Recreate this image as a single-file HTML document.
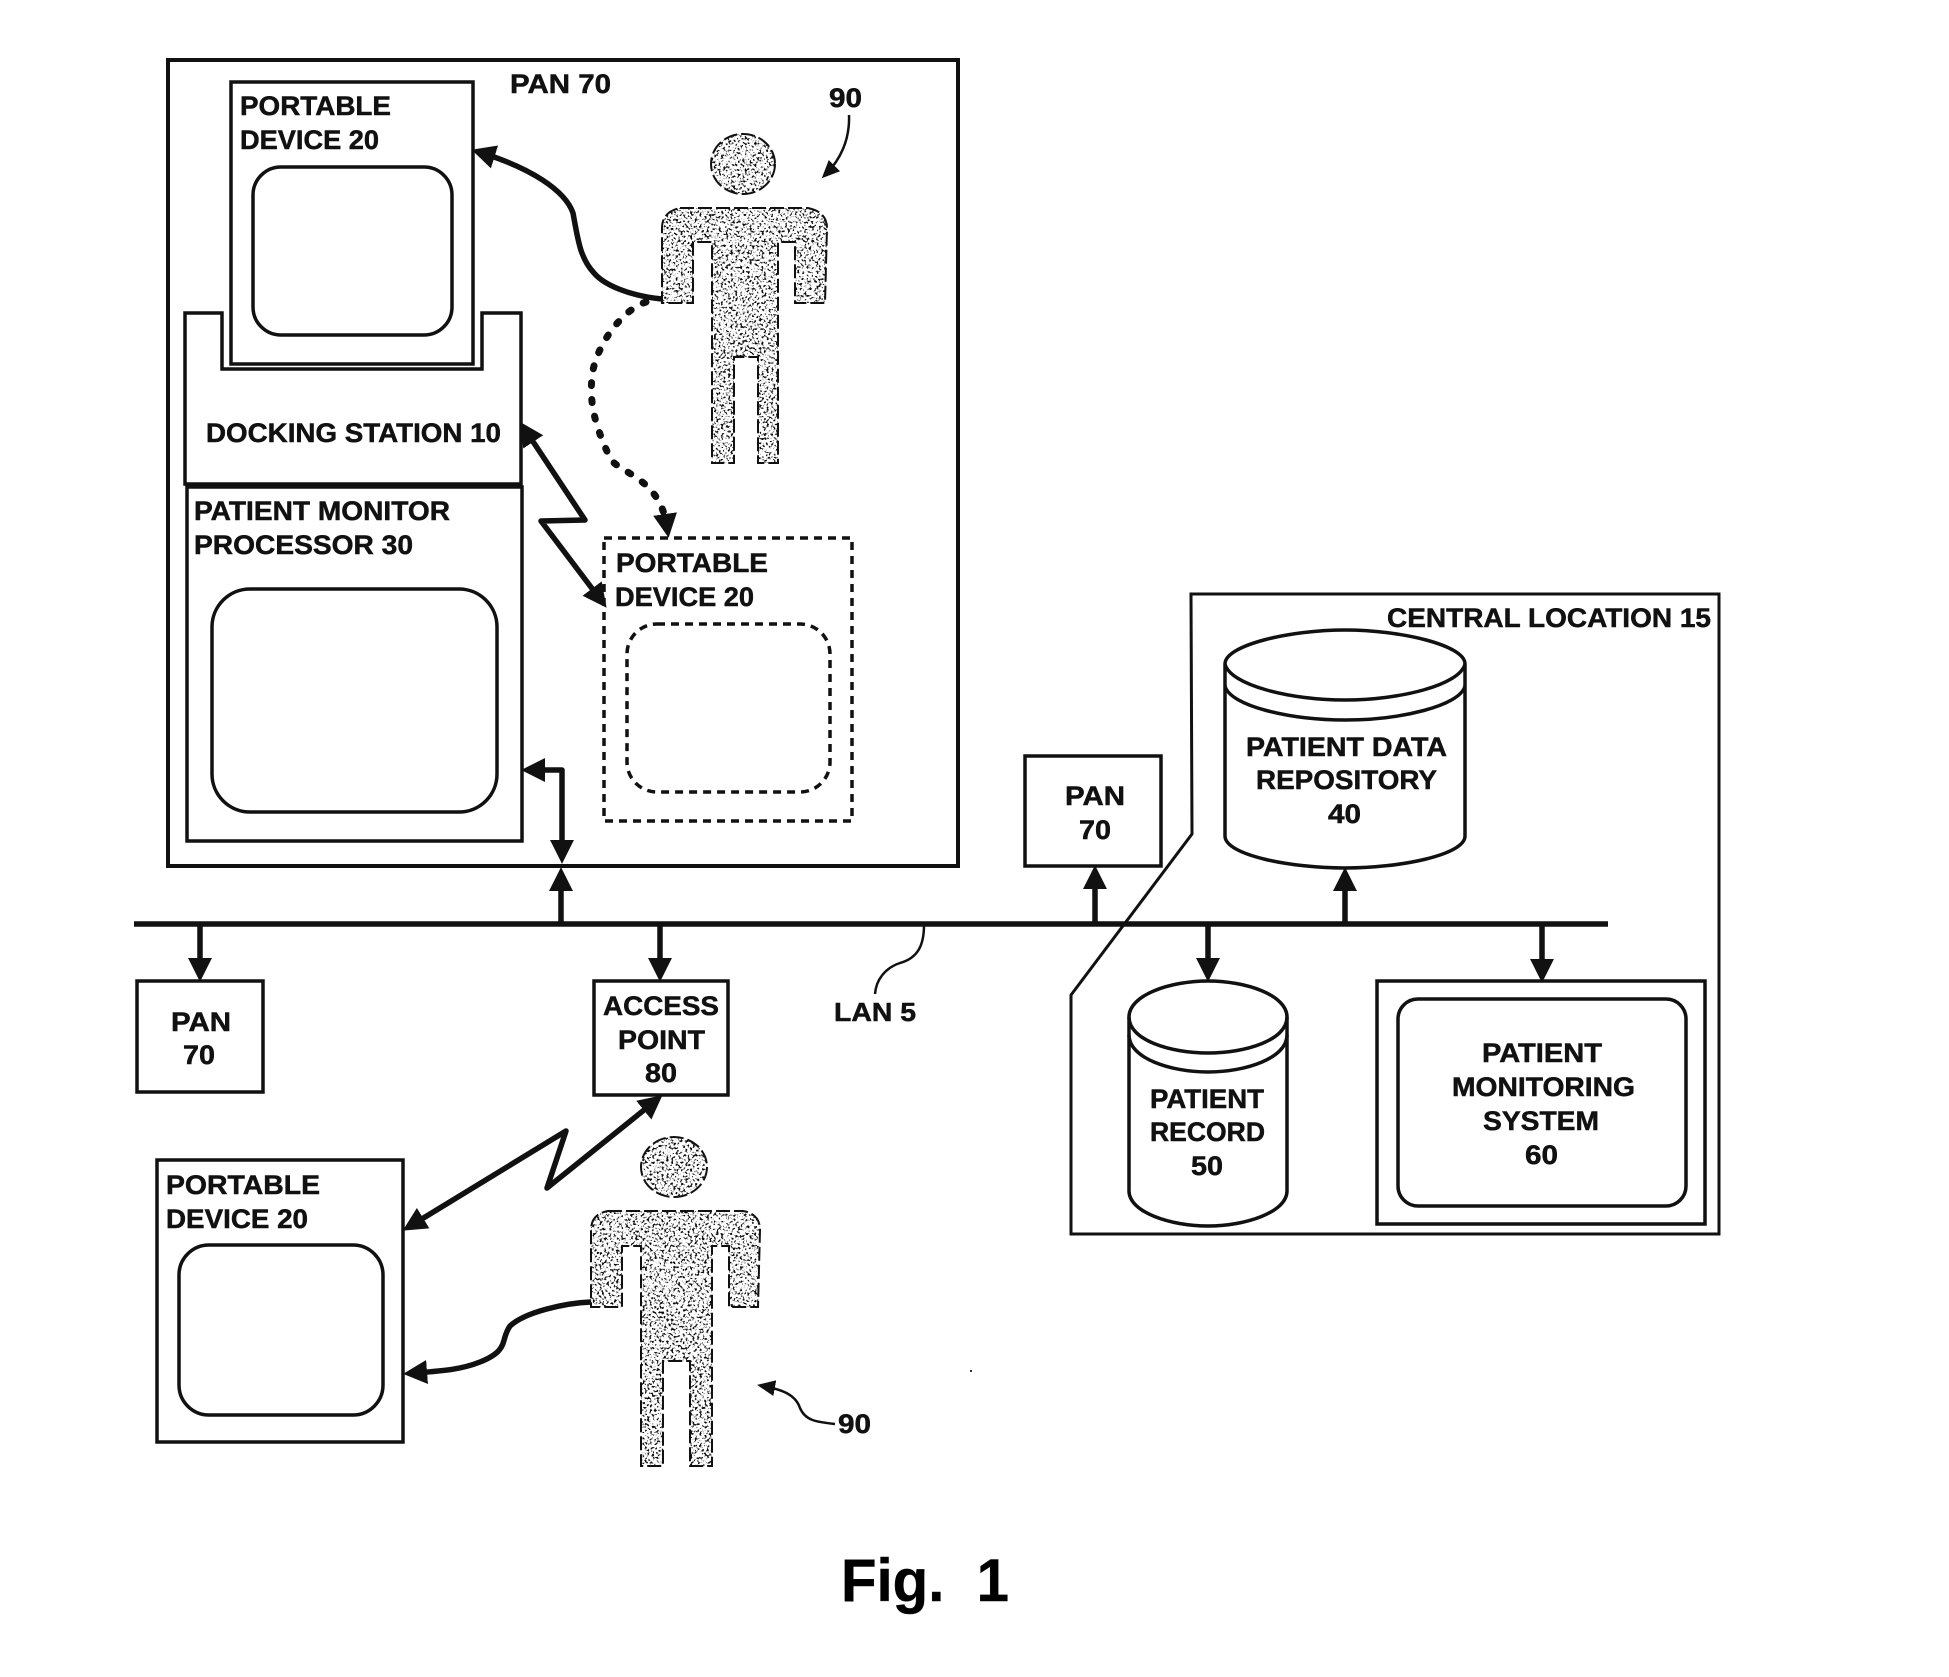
<!DOCTYPE html>
<html><head><meta charset="utf-8"><title>Fig. 1</title>
<style>
html,body{margin:0;padding:0;background:#fff}
svg{display:block}
text{font-family:"Liberation Sans",Arial,sans-serif;font-weight:bold;font-size:27px;fill:#111;stroke:#111;stroke-width:.5}
.b{fill:#fff;stroke:#111;stroke-width:3.5}
.n{fill:none;stroke:#111;stroke-width:3.5}
.a{fill:none;stroke:#111;stroke-width:5.5;stroke-linejoin:round}
.t{fill:none;stroke:#111;stroke-width:2.5}
.o{fill:none;stroke:#111;stroke-width:2;stroke-dasharray:14 4}
</style></head>
<body>
<svg xmlns="http://www.w3.org/2000/svg" width="1949" height="1677" viewBox="0 0 1949 1677">
<defs>
<marker id="h" markerUnits="userSpaceOnUse" markerWidth="24" markerHeight="24" viewBox="0 0 22 22" refX="12" refY="11" orient="auto-start-reverse"><path d="M0,0 L22,11 L0,22 Z" fill="#111"/></marker>
<marker id="s" markerUnits="userSpaceOnUse" markerWidth="18" markerHeight="16" viewBox="0 0 18 16" refX="12" refY="8" orient="auto-start-reverse"><path d="M0,0 L18,8 L0,16 Z" fill="#111"/></marker>
<filter id="st" x="0" y="0" width="1" height="1" color-interpolation-filters="sRGB">
<feTurbulence type="fractalNoise" baseFrequency="0.42" numOctaves="2" seed="7"/>
<feColorMatrix type="matrix" values="0 0 0 0 0.05  0 0 0 0 0.05  0 0 0 0 0.05  9 0 0 0 -4.9"/>
<feComposite in2="SourceAlpha" operator="in"/>
</filter>
</defs>
<rect width="1949" height="1677" fill="#fff"/>

<!-- PAN 70 outer -->
<rect class="b" x="168" y="60" width="790" height="806" style="stroke-width:4"/>
<text x="510" y="93" textLength="101" lengthAdjust="spacingAndGlyphs">PAN 70</text>
<text x="829" y="107" textLength="33" lengthAdjust="spacingAndGlyphs">90</text>
<path class="t" marker-end="url(#s)" d="M849,115 C850,140 840,160 826,174"/>

<!-- docking + portable -->
<path class="b" d="M185,484 L185,313 L222,313 L222,369 L482,369 L482,313 L521,313 L521,484 Z"/>
<rect class="b" x="231" y="82" width="242" height="282"/>
<rect class="n" x="253" y="167" width="199" height="168" rx="28"/>
<text x="240" y="115" textLength="151" lengthAdjust="spacingAndGlyphs">PORTABLE</text>
<text x="240" y="149" textLength="139" lengthAdjust="spacingAndGlyphs">DEVICE 20</text>
<text x="206" y="442" textLength="295" lengthAdjust="spacingAndGlyphs">DOCKING STATION 10</text>

<!-- patient monitor -->
<rect class="b" x="187" y="487" width="335" height="354"/>
<text x="194" y="520" textLength="256" lengthAdjust="spacingAndGlyphs">PATIENT MONITOR</text>
<text x="194" y="554" textLength="219" lengthAdjust="spacingAndGlyphs">PROCESSOR 30</text>
<rect class="n" x="212" y="589" width="285" height="223" rx="38"/>

<!-- person 1 -->
<g filter="url(#st)">
<ellipse cx="743" cy="164" rx="32" ry="30" fill="#000"/>
<path fill="#000" d="M680,208 L808,208 Q827,212 827,228 L825,303 L795,303 L795,242 L778,242 L778,463 L758,463 L758,357 L734,357 L734,463 L712,463 L712,242 L693,242 L693,303 L662,303 L662,228 Q662,212 680,208 Z"/>
</g>
<ellipse class="o" cx="743" cy="164" rx="32" ry="30"/>
<path class="o" d="M680,208 L808,208 Q827,212 827,228 L825,303 L795,303 L795,242 L778,242 L778,463 L758,463 L758,357 L734,357 L734,463 L712,463 L712,242 L693,242 L693,303 L662,303 L662,228 Q662,212 680,208 Z"/>

<path class="a" marker-end="url(#h)" d="M662,299 C630,296 604,285 594,273 C580,258 578,240 573,213 C565,190 530,168 482,153"/>
<path d="M646,302 C622,310 596,345 592,376 C590,400 592,420 611,460 C625,475 660,480 667,527" fill="none" stroke="#111" stroke-width="7" stroke-dasharray="3 14" stroke-linecap="round" marker-end="url(#h)"/>
<path class="a" marker-start="url(#h)" marker-end="url(#h)" d="M526,431 L585,520 L541,521 L600,599"/>

<!-- dashed portable -->
<rect x="604" y="538" width="248" height="283" fill="none" stroke="#111" stroke-width="3.5" stroke-dasharray="8 6"/>
<rect x="627" y="624" width="203" height="168" rx="30" fill="none" stroke="#111" stroke-width="3.5" stroke-dasharray="8 6"/>
<text x="616" y="572" textLength="152" lengthAdjust="spacingAndGlyphs">PORTABLE</text>
<text x="615" y="606" textLength="139" lengthAdjust="spacingAndGlyphs">DEVICE 20</text>

<!-- monitor connection -->
<path class="a" marker-start="url(#h)" marker-end="url(#h)" d="M532,770 L562,770 L562,853"/>

<!-- Central location -->
<path class="n" style="stroke-width:3" d="M1191,594 L1719,594 L1719,1234 L1071,1234 L1071,995 L1192,834 Z"/>
<text x="1387" y="627" textLength="324" lengthAdjust="spacingAndGlyphs">CENTRAL LOCATION 15</text>

<!-- Cylinder 40 -->
<path class="n" d="M1225,664 C1225,645 1290,630 1345,630 C1400,630 1465,645 1465,664 L1465,836 C1465,855 1400,868 1345,868 C1290,868 1225,855 1225,836 Z" fill="#fff"/>
<path class="n" d="M1225,664 C1230,685 1290,700 1345,700 C1400,700 1460,685 1465,664"/>
<path class="n" d="M1225,686 C1230,706 1290,720 1345,720 C1400,720 1460,706 1465,686"/>
<text x="1246" y="756" textLength="201" lengthAdjust="spacingAndGlyphs">PATIENT DATA</text>
<text x="1256" y="789" textLength="181" lengthAdjust="spacingAndGlyphs">REPOSITORY</text>
<text x="1328" y="823" textLength="33" lengthAdjust="spacingAndGlyphs">40</text>

<!-- PAN right -->
<rect class="b" x="1025" y="756" width="136" height="110"/>
<text x="1065" y="805" textLength="60" lengthAdjust="spacingAndGlyphs">PAN</text>
<text x="1079" y="839" textLength="32" lengthAdjust="spacingAndGlyphs">70</text>

<!-- Cylinder 50 -->
<path class="n" d="M1129,1017 C1129,995 1170,981 1208,981 C1246,981 1287,995 1287,1017 L1287,1191 C1287,1212 1246,1226 1208,1226 C1170,1226 1129,1212 1129,1191 Z" fill="#fff"/>
<path class="n" d="M1129,1017 C1129,1040 1170,1053 1208,1053 C1246,1053 1287,1040 1287,1017"/>
<path class="n" d="M1129,1035 C1129,1058 1170,1072 1208,1072 C1246,1072 1287,1058 1287,1035"/>
<text x="1150" y="1108" textLength="114" lengthAdjust="spacingAndGlyphs">PATIENT</text>
<text x="1150" y="1141" textLength="115" lengthAdjust="spacingAndGlyphs">RECORD</text>
<text x="1191" y="1175" textLength="32" lengthAdjust="spacingAndGlyphs">50</text>

<!-- Monitoring system -->
<rect class="b" x="1377" y="981" width="328" height="243"/>
<rect class="n" x="1398" y="999" width="288" height="207" rx="20"/>
<text x="1482" y="1062" textLength="120" lengthAdjust="spacingAndGlyphs">PATIENT</text>
<text x="1452" y="1096" textLength="183" lengthAdjust="spacingAndGlyphs">MONITORING</text>
<text x="1483" y="1130" textLength="116" lengthAdjust="spacingAndGlyphs">SYSTEM</text>
<text x="1525" y="1164" textLength="33" lengthAdjust="spacingAndGlyphs">60</text>

<!-- LAN -->
<path class="a" style="stroke-width:5.5" d="M134,924 L1608,924"/>
<path class="a" marker-end="url(#h)" d="M561,924 L561,878"/>
<path class="a" marker-end="url(#h)" d="M200,924 L200,971"/>
<path class="a" marker-end="url(#h)" d="M660,924 L660,971"/>
<path class="a" marker-end="url(#h)" d="M1095,924 L1095,876"/>
<path class="a" marker-end="url(#h)" d="M1345,924 L1345,878"/>
<path class="a" marker-end="url(#h)" d="M1208,924 L1208,971"/>
<path class="a" marker-end="url(#h)" d="M1542,924 L1542,972"/>
<path class="t" d="M924,925 C924,945 918,958 900,963 C885,968 876,980 875,994"/>
<text x="834" y="1021" textLength="82" lengthAdjust="spacingAndGlyphs" style="font-size:26px">LAN 5</text>

<!-- PAN left -->
<rect class="b" x="137" y="981" width="126" height="111"/>
<text x="171" y="1031" textLength="60" lengthAdjust="spacingAndGlyphs">PAN</text>
<text x="183" y="1064" textLength="32" lengthAdjust="spacingAndGlyphs">70</text>

<!-- Access point -->
<rect class="b" x="594" y="981" width="134" height="114"/>
<text x="603" y="1015" textLength="116" lengthAdjust="spacingAndGlyphs">ACCESS</text>
<text x="618" y="1049" textLength="87" lengthAdjust="spacingAndGlyphs">POINT</text>
<text x="645" y="1082" textLength="32" lengthAdjust="spacingAndGlyphs">80</text>

<!-- Portable bottom -->
<rect class="b" x="157" y="1160" width="246" height="282"/>
<rect class="n" x="179" y="1245" width="204" height="170" rx="30"/>
<text x="166" y="1194" textLength="154" lengthAdjust="spacingAndGlyphs">PORTABLE</text>
<text x="166" y="1228" textLength="142" lengthAdjust="spacingAndGlyphs">DEVICE 20</text>

<!-- Lightning bottom -->
<path class="a" marker-start="url(#h)" marker-end="url(#h)" d="M654,1102 L547,1188 L566,1131 L412,1225"/>

<!-- person 2 -->
<g filter="url(#st)">
<ellipse cx="674" cy="1167" rx="33" ry="30" fill="#000"/>
<path fill="#000" d="M608,1211 L743,1211 Q760,1214 760,1230 L758,1307 L729,1307 L729,1246 L712,1246 L712,1466 L690,1466 L690,1361 L663,1361 L663,1466 L641,1466 L641,1246 L622,1246 L622,1307 L591,1307 L591,1230 Q591,1214 608,1211 Z"/>
</g>
<ellipse class="o" cx="674" cy="1167" rx="33" ry="30"/>
<path class="o" d="M608,1211 L743,1211 Q760,1214 760,1230 L758,1307 L729,1307 L729,1246 L712,1246 L712,1466 L690,1466 L690,1361 L663,1361 L663,1466 L641,1466 L641,1246 L622,1246 L622,1307 L591,1307 L591,1230 Q591,1214 608,1211 Z"/>
<path class="a" marker-end="url(#h)" d="M591,1302 C565,1303 525,1312 510,1326 C500,1340 510,1350 480,1362 C460,1370 440,1371 414,1373"/>

<path class="t" marker-end="url(#s)" d="M835,1424 C815,1422 805,1420 800,1408 C796,1396 785,1390 763,1386"/>
<text x="838" y="1433" textLength="33" lengthAdjust="spacingAndGlyphs">90</text>
<rect x="970" y="1370" width="2" height="2" fill="#333"/>

<text x="841" y="1601" textLength="168" xml:space="preserve" lengthAdjust="spacingAndGlyphs" style="font-size:60px;fill:#000">Fig.  1</text>
</svg>
</body></html>
